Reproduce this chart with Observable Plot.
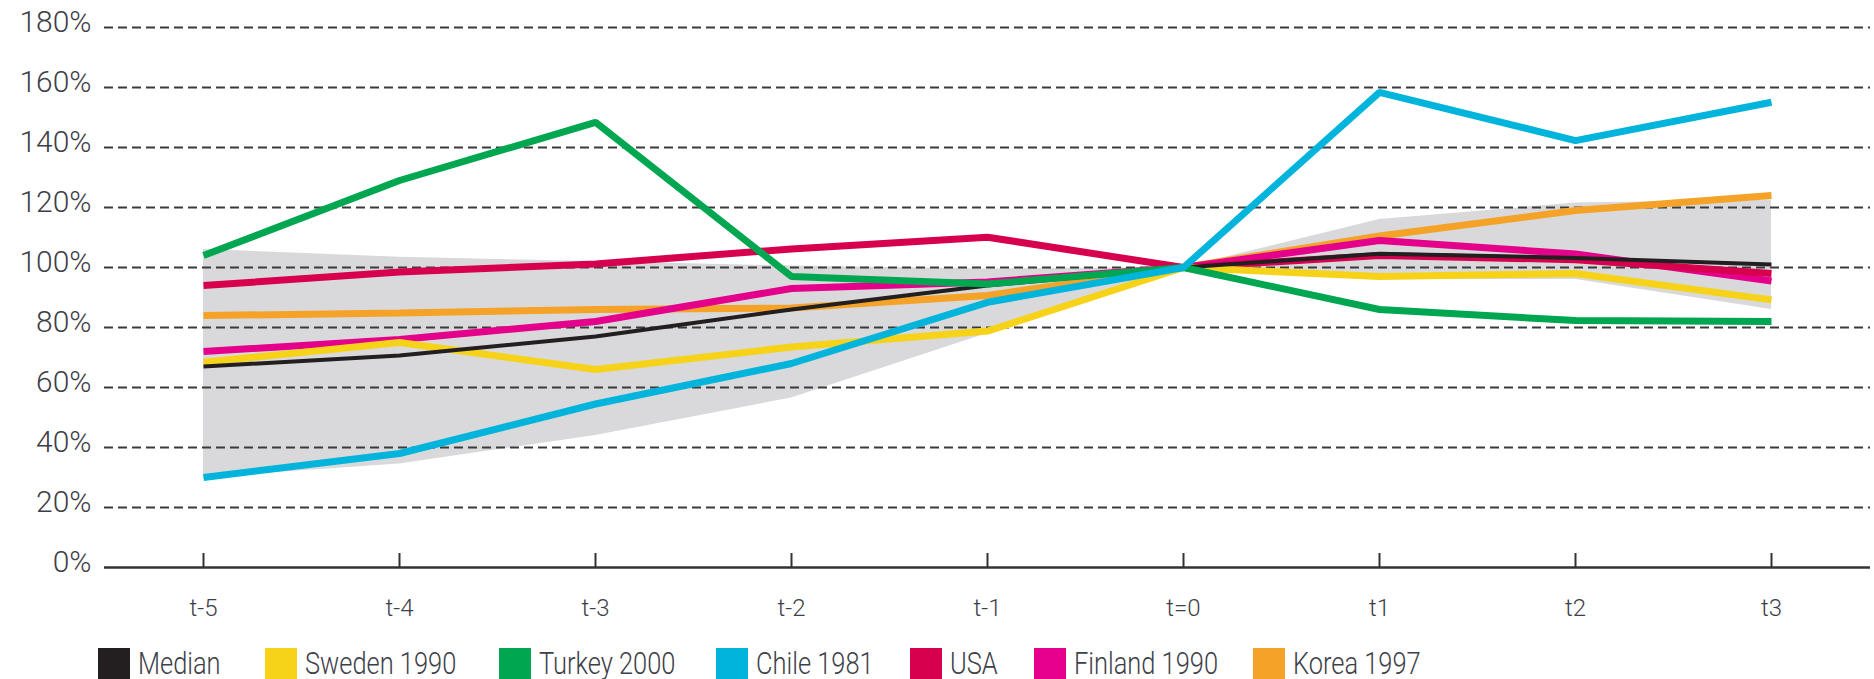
<!DOCTYPE html>
<html><head><meta charset="utf-8">
<script src="https://cdn.jsdelivr.net/npm/d3@7"></script>
<script src="https://cdn.jsdelivr.net/npm/@observablehq/plot@0.6"></script>
<style>
html,body{margin:0;padding:0;background:#fff;overflow:hidden}
#legend{position:relative;margin-top:8px;height:32px;font-family:Roboto,sans-serif;font-weight:300;font-size:31px;line-height:32px;color:#3d4048}
.item{position:absolute;top:0;display:flex;align-items:flex-start;white-space:nowrap}
.sw{width:32px;height:32px;margin-right:8px;flex:none}
.lab{display:inline-block;transform:scaleX(0.82);transform-origin:0 50%}
svg text{font-weight:300}
</style></head><body><div id="chart"></div><div id="legend"></div>
<script>
// ---- data ----
const periods = ["t-5","t-4","t-3","t-2","t-1","t=0","t1","t2","t3"];
const seriesNames = ["Median","Sweden 1990","Turkey 2000","Chile 1981","USA","Finland 1990","Korea 1997"];
const median  = [67, 70.7, 77, 86, 94, 100, 104.6, 103.2, 101];
const sweden  = [68.4, 75, 66, 73.5, 78.8, 100, 97, 98, 89.2];
const turkey  = [104, 129, 148.4, 97, 94.5, 100, 86, 82.3, 82];
const chile   = [30, 38, 54.5, 68, 88.4, 100, 158.4, 142.3, 155.1];
const usa     = [94, 98.5, 101.2, 106.2, 110.1, 100, 104, 102.6, 98];
const finland = [72, 76, 82, 93, 95.2, 100, 109, 104.5, 95.5];
const korea   = [84, 84.8, 86, 86.5, 90.7, 100, 110.5, 119, 124];
const bandLow  = [30, 34.5, 44, 56.5, 78, 100, 96, 96, 86];
const bandHigh = [106, 103.4, 102, 100.5, 99.5, 100, 116, 121.5, 122.5];
const yTicks = [0, 20, 40, 60, 80, 100, 120, 140, 160, 180];

// ---- styles ----
const colors = ["#231f20", "#f6d318", "#00a650", "#00b4dc", "#d7004f", "#e4008a", "#f4a328"];
const legendLeft = [98, 265, 499, 716, 910, 1034, 1253];

const seriesValues = {"Median": median, "Sweden 1990": sweden, "Turkey 2000": turkey, "Chile 1981": chile, "USA": usa, "Finland 1990": finland, "Korea 1997": korea};
const table = [];
seriesNames.forEach(name => periods.forEach((p, j) => table.push({series: name, period: p, value: seriesValues[name][j]})));
const band = periods.map((p, j) => ({period: p, low: bandLow[j], high: bandHigh[j]}));
const pick = names => names.flatMap(n => table.filter(d => d.series === n));

const lineOpts = {x: "period", y: "value", z: "series", stroke: "series", strokeLinecap: "butt", strokeLinejoin: "miter"};

const plot = Plot.plot({
  width: 1874, height: 640,
  marginLeft: 104, marginRight: 4, marginTop: 27, marginBottom: 73,
  style: {fontFamily: "Roboto, sans-serif", color: "#3d4048", background: "white", overflow: "visible"},
  x: {type: "point", domain: periods, padding: 0.5, label: null},
  y: {domain: [0, 180], label: null},
  color: {domain: seriesNames, range: colors},
  marks: [
    Plot.areaY(band, {x: "period", y1: "low", y2: "high", fill: "#d9d9db"}),
    Plot.gridY(yTicks.filter(d => d > 0), {stroke: "#3a3a3a", strokeOpacity: 1, strokeWidth: 2, strokeDasharray: "9,5"}),
    Plot.ruleY([0], {stroke: "#333", strokeWidth: 2.5}),
    Plot.axisX({tickSize: 14, dy: -14, stroke: "#333", strokeWidth: 2, fill: "none", label: null}),
    Plot.axisX({tickSize: 0, tickPadding: 31, fontSize: 24, label: null}),
    Plot.axisY(yTicks, {tickFormat: d => d + "%", tickSize: 0, tickPadding: 13, fontSize: 30, dy: -5, label: null}),
    Plot.line(pick(["Korea 1997", "Finland 1990", "USA", "Sweden 1990"]), {...lineOpts, strokeWidth: 7}),
    Plot.line(pick(["Median"]), {...lineOpts, strokeWidth: 4}),
    Plot.line(pick(["Turkey 2000", "Chile 1981"]), {...lineOpts, strokeWidth: 7})
  ]
});
document.getElementById("chart").append(plot);

const colorScale = plot.scale("color");
const legend = document.getElementById("legend");
seriesNames.forEach((name, i) => {
  const item = document.createElement("div");
  item.className = "item";
  item.style.left = legendLeft[i] + "px";
  const sw = document.createElement("div");
  sw.className = "sw";
  sw.style.background = colorScale.range[i];
  const label = document.createElement("span");
  label.className = "lab";
  label.textContent = name;
  item.append(sw, label);
  legend.append(item);
});
</script></body></html>
